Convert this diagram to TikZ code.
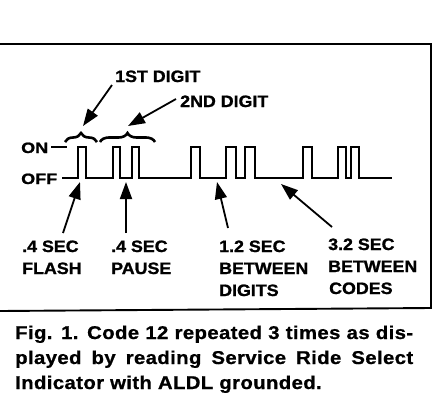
\documentclass[tikz,border=0pt]{standalone}
\usepackage{fontspec}
\setmainfont{Liberation Sans}
\newfontfamily\labfont{Liberation Sans}[FakeStretch=1.08, FakeBold=1.2]
\newfontfamily\lvlfont{Liberation Sans}[FakeStretch=1.2, FakeBold=1.2]
\newfontfamily\capfont{Liberation Sans}[FakeStretch=1.1, FakeBold=0.8, LetterSpace=2]
\usetikzlibrary{arrows.meta,decorations.pathreplacing}
\begin{document}
\begin{tikzpicture}[x=1pt,y=-1pt,
  lab/.style={font={\labfont\bfseries\fontsize{16.5pt}{18pt}\selectfont}, inner sep=0pt, anchor=base west},
  lvl/.style={font={\lvlfont\bfseries\fontsize{15pt}{16pt}\selectfont}, inner sep=0pt, anchor=base west},
  captxt/.style={font={\capfont\bfseries\fontsize{18.5pt}{20pt}\selectfont}, inner sep=0pt, anchor=base west},
  wave/.style={line width=1.9pt, line join=miter},
  frameline/.style={line width=1.9pt},
  ptr/.style={line width=1.8pt, -{Triangle[length=17pt,width=12pt]}},
  brc/.style={line width=2.6pt, decorate, decoration={brace, amplitude=9pt}}]
\useasboundingbox (0,0) rectangle (448,416);

% frame
\draw[frameline] (0,44) -- (431,44) -- (431,308) -- (0,311);

% level labels
\node[lvl] (on) at (21,153) {ON};
\node[lvl] (off) at (21,184) {OFF};
\draw[wave] (51,147) -- (67,147);

% waveform
\draw[wave] (62,178) -- (78,178) -- (78,147) -- (86,147) -- (86,178)
  -- (113,178) -- (113,147) -- (120,147) -- (120,178)
  -- (132,178) -- (132,147) -- (139,147) -- (139,178)
  -- (191,178) -- (191,147) -- (200,147) -- (200,178)
  -- (226,178) -- (226,147) -- (236,147) -- (236,178)
  -- (245,178) -- (245,147) -- (255,147) -- (255,178)
  -- (303,178) -- (303,147) -- (312,147) -- (312,178)
  -- (338,178) -- (338,147) -- (346,147) -- (346,178)
  -- (351,178) -- (351,147) -- (359,147) -- (359,178)
  -- (392,178);

% braces
\draw[brc] (65,142) -- (97,142);
\draw[brc] (100,142) -- (155,142);

% top labels
\node[lab] (d1) at (115,82) {1ST DIGIT};
\node[lab] (d2) at (180,107) {2ND DIGIT};
\coordinate (d1t) at (112,85);
\coordinate (d1h) at (83,126);
\coordinate (d2t) at (176,99);
\coordinate (d2h) at (128,126);
\draw[ptr] (d1t) -- (d1h);
\draw[ptr] (d2t) -- (d2h);

% bottom labels
\node[lab] (f1) at (22,252) {.4 SEC};
\node[lab] (f2) at (22,274) {FLASH};
\node[lab] (p1) at (111,252) {.4 SEC};
\node[lab] (p2) at (111,274) {PAUSE};
\node[lab] (b1) at (219,252) {1.2 SEC};
\node[lab] (b2) at (219,274) {BETWEEN};
\node[lab] (b3) at (219,296) {DIGITS};
\node[lab] (c1) at (328,250) {3.2 SEC};
\node[lab] (c2) at (328,272) {BETWEEN};
\node[lab] (c3) at (329,294) {CODES};

\coordinate (a1t) at (63,233);
\coordinate (a1h) at (80,182);
\coordinate (a2t) at (126,233);
\coordinate (a2h) at (126,182);
\coordinate (a3t) at (228,228);
\coordinate (a3h) at (217,182);
\coordinate (a4t) at (332,227);
\coordinate (a4h) at (281,184);
\draw[ptr] (a1t) -- (a1h);
\draw[ptr] (a2t) -- (a2h);
\draw[ptr] (a3t) -- (a3h);
\draw[ptr] (a4t) -- (a4h);

% caption
\node[captxt] (cap1) at (15,339) {\makebox[398pt][s]{Fig. 1. Code 12 repeated 3 times as dis-}};
\node[captxt] (cap2) at (15,364) {\makebox[398pt][s]{played by reading Service Ride Select}};
\node[captxt] (cap3) at (15,389) {Indicator with ALDL grounded.};
\end{tikzpicture}
\end{document}
